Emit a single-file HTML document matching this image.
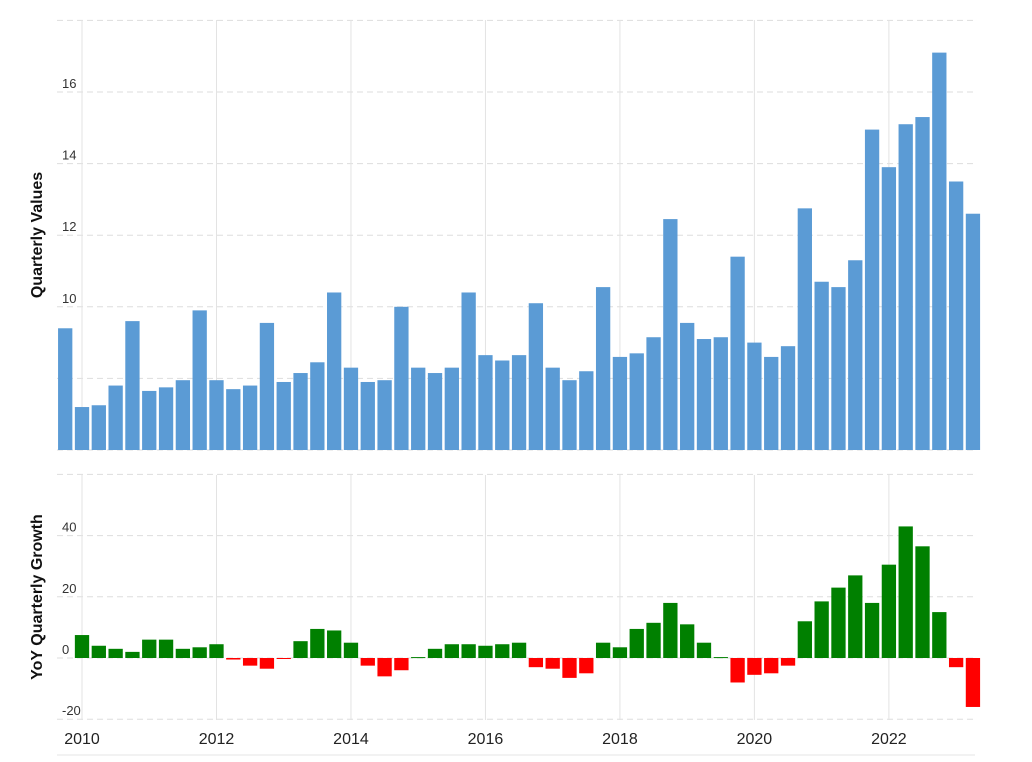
<!DOCTYPE html>
<html><head><meta charset="utf-8"><style>
body{margin:0;background:#fff;font-family:"Liberation Sans",sans-serif;}
svg text{font-family:"Liberation Sans",sans-serif;}
</style></head><body>
<svg id="chart" width="1032" height="757" xmlns="http://www.w3.org/2000/svg"></svg>
<script>
const years = ["2010","2012","2014","2016","2018","2020","2022"];
const quarterlyValues = [9.4,7.2,7.25,7.8,9.6,7.65,7.75,7.95,9.9,7.95,7.7,7.8,9.55,7.9,8.15,8.45,10.4,8.3,7.9,7.95,10.0,8.3,8.15,8.3,10.4,8.65,8.5,8.65,10.1,8.3,7.95,8.2,10.55,8.6,8.7,9.15,12.45,9.55,9.1,9.15,11.4,9.0,8.6,8.9,12.75,10.7,10.55,11.3,14.95,13.9,15.1,15.3,17.1,13.5,12.6];
const yoyGrowth = [null,7.5,4,3,2,6,6,3,3.5,4.5,-0.5,-2.5,-3.5,-0.3,5.5,9.5,9,5,-2.5,-6,-4,0.3,3,4.5,4.5,4,4.5,5,-3,-3.5,-6.5,-5,5,3.5,9.5,11.5,18,11,5,0.3,-8,-5.5,-5,-2.5,12,18.5,23,27,18,30.5,43,36.5,15,-3,-16];
const topTicks = [6,8,10,12,14,16,18];
const botTicks = [-20,0,20,40,60];

const svg = document.getElementById('chart');
const NS = 'http://www.w3.org/2000/svg';
function mk(tag, attrs, parent){const e=document.createElementNS(NS,tag);for(const k in attrs)e.setAttribute(k,attrs[k]);(parent||svg).appendChild(e);return e;}
const L=57, R=979, pitch=16.81, x0=65.2;
const xIdx = i => x0 + i*pitch;
const xYear = y => xIdx(1 + (y-2010)*4);
const yTop = v => 450 - (v-6)*35.8;
const yBot = v => 658 - v*3.06;

// top grid
topTicks.forEach(t=>{
  const l=mk('line',{x1:L,x2:975,y1:yTop(t),y2:yTop(t),stroke:'#ddd','stroke-dasharray':'6,4'});
  
  
  if(t<18){const tx=mk('text',{x:62,y:yTop(t)-4,'font-size':13,fill:'#333'});tx.textContent=t;
  
  }
});
botTicks.forEach(t=>{
  const l=mk('line',{x1:L,x2:975,y1:yBot(t),y2:yBot(t),stroke:'#ddd','stroke-dasharray':'6,4'});
  
  
  if(t<60){const tx=mk('text',{x:62,y:yBot(t)-4,'font-size':13,fill:'#333'});tx.textContent=t;
  
  }
});
years.forEach(y=>{
  const x=xYear(+y);
  const l1=mk('line',{x1:x,x2:x,y1:20,y2:450,stroke:'#e3e3e3'});
  
  
  const l2=mk('line',{x1:x,x2:x,y1:475,y2:720,stroke:'#e3e3e3'});
  
  
  const t=mk('text',{x:x,y:744,'font-size':16,fill:'#222','text-anchor':'middle'});t.textContent=y;
  
  
});
const bw=14.3;
quarterlyValues.forEach((v,i)=>{
  const r=mk('rect',{x:xIdx(i)-bw/2,y:yTop(v),width:bw,height:450-yTop(v),fill:'#5b9bd5'});
  
  
});
yoyGrowth.forEach((v,i)=>{
  if(v===null)return;
  const y1=Math.min(yBot(v),658), h=Math.abs(yBot(v)-658);
  const r=mk('rect',{x:xIdx(i)-bw/2,y:y1,width:bw,height:Math.max(h,1),fill:v>=0?'#008000':'#ff0000'});
  
  
});
mk('line',{x1:L,x2:975,y1:755,y2:755,stroke:'#e6e6e6'});
const t1=mk('text',{x:0,y:0,'font-size':16,'font-weight':'bold',fill:'#111','text-anchor':'middle',transform:'translate(42,235) rotate(-90)'});t1.textContent='Quarterly Values';


const t2=mk('text',{x:0,y:0,'font-size':16,'font-weight':'bold',fill:'#111','text-anchor':'middle',transform:'translate(42,597) rotate(-90)'});t2.textContent='YoY Quarterly Growth';


</script>
</body></html>
